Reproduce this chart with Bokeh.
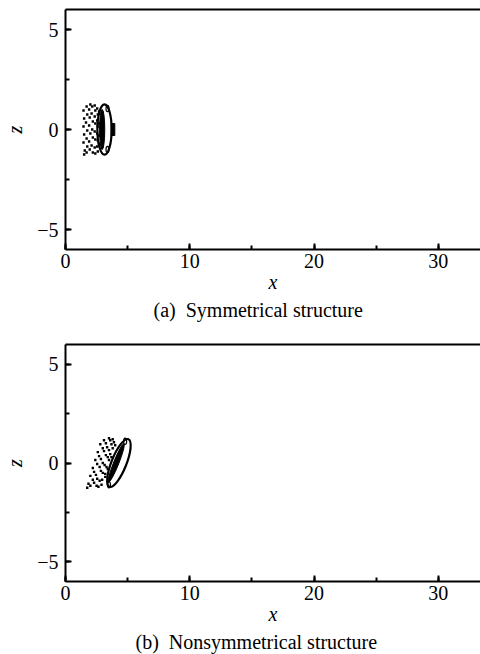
from bokeh.plotting import figure
from bokeh.layouts import column
from bokeh.models import (LinearAxis, FixedTicker, SingleIntervalTicker, Title, Range1d)
from bokeh.embed import file_html
from bokeh.resources import INLINE

FONT = "serif"

# ---- panel (a): symmetrical structure ----
dots_a_x = [1.45, 1.5, 1.45, 1.5, 1.45, 1.55, 1.5,
            1.7, 1.75, 1.65, 1.75, 1.7, 1.75, 1.7,
            1.9, 1.95, 1.9, 2.0, 1.9, 1.95, 2.0,
            2.15, 2.1, 2.2, 2.15, 2.2, 2.1, 2.2,
            2.35, 2.4, 2.35, 2.4, 2.35, 2.4, 2.35, 2.4,
            2.55, 2.6, 2.55, 2.6, 2.55, 2.6, 2.55, 2.6,
            2.7, 2.7, 2.7, 2.7]
dots_a_z = [0.95, 0.55, 0.15, -0.25, -0.65, -1.05, -1.25,
            1.15, 0.75, 0.35, -0.05, -0.45, -0.85, -1.15,
            1.0, 0.6, 0.2, -0.2, -0.6, -1.0, 1.25,
            1.15, 0.8, 0.4, 0.0, -0.4, -0.8, -1.15,
            1.2, 0.95, 0.65, 0.3, -0.1, -0.5, -0.9, -1.2,
            1.05, 0.75, 0.45, 0.15, -0.2, -0.55, -0.85, -1.1,
            0.9, 0.3, -0.3, -0.7]

# ring: centre x, centre z, width, height, tilt (rad)
ring_a = dict(x=3.14, z=0.0, w=1.15, h=2.52, tilt=0.0)
core_a = dict(x=2.95, z=0.0, w=0.42, h=2.0, tilt=0.0)
loops_a_x = [3.38, 3.38]
loops_a_z = [1.05, -1.0]
tab_a = dict(x=3.82, z=0.0, w=0.3, h=0.6)

# ---- panel (b): nonsymmetrical structure ----
dots_b_x = [2.8, 2.6, 2.4, 2.2, 2.0, 1.85, 1.75,
            3.1, 3.0, 2.7, 2.55, 2.3, 2.2, 2.0,
            3.25, 3.1, 2.85, 2.75, 2.45, 2.3, 3.5,
            3.6, 3.35, 3.25, 3.0, 2.85, 2.55, 2.5,
            3.8, 3.7, 3.5, 3.4, 3.15, 3.0, 2.75, 2.65,
            3.9, 3.8, 3.6, 3.5, 3.3, 3.2, 2.95, 2.9,
            4.0, 3.7, 3.4, 3.2]
dots_b_z = [0.95, 0.55, 0.15, -0.25, -0.65, -1.05, -1.25,
            1.15, 0.75, 0.35, -0.05, -0.45, -0.85, -1.15,
            1.0, 0.6, 0.2, -0.2, -0.6, -1.0, 1.25,
            1.15, 0.8, 0.4, 0.0, -0.4, -0.8, -1.15,
            1.2, 0.95, 0.65, 0.3, -0.1, -0.5, -0.9, -1.2,
            1.05, 0.75, 0.45, 0.15, -0.2, -0.55, -0.85, -1.1,
            0.9, 0.3, -0.3, -0.7]

ring_b = dict(x=4.3, z=0.0, w=1.2, h=2.6, tilt=-0.38)
core_b = dict(x=4.08, z=0.0, w=0.42, h=2.1, tilt=-0.38)
loops_b_x = [4.8, 3.5]
loops_b_z = [1.1, -1.1]

CAPTION_A = "(a)\u00a0\u00a0Symmetrical structure"
CAPTION_B = "(b)\u00a0\u00a0Nonsymmetrical structure"


def panel(height, top, bottom, caption, cap_offset, dots_x, dots_z, ring, core,
          loops_x, loops_z, tab=None):
    p = figure(width=480, height=height, output_backend="svg", toolbar_location=None,
               x_range=Range1d(0, 33.4), y_range=Range1d(-6, 6),
               min_border_left=65, min_border_right=0,
               min_border_top=top, min_border_bottom=bottom)
    p.outline_line_color = None
    p.grid.visible = False
    p.background_fill_color = "white"
    p.border_fill_color = "white"

    p.xaxis.ticker = SingleIntervalTicker(interval=10, num_minor_ticks=2)
    p.yaxis.ticker = SingleIntervalTicker(interval=5, num_minor_ticks=2)
    p.yaxis.major_label_overrides = {-5: "\u22125"}
    for ax in (p.xaxis[0], p.yaxis[0]):
        ax.axis_line_width = 2
        ax.major_tick_in = 6
        ax.major_tick_out = 0
        ax.minor_tick_in = 4
        ax.minor_tick_out = 0
        ax.major_tick_line_width = 2
        ax.minor_tick_line_width = 2
        ax.major_label_text_font = FONT
        ax.major_label_text_font_size = "20px"
        ax.major_label_text_color = "black"
        ax.axis_label_text_font = FONT
        ax.axis_label_text_font_size = "20px"
        ax.axis_label_text_font_style = "italic"
        ax.axis_label_text_color = "black"
    p.xaxis.axis_label = "x"
    p.yaxis.axis_label = "z"
    p.xaxis.major_label_standoff = 4
    p.xaxis.axis_label_standoff = 0
    p.yaxis.major_label_standoff = 7
    p.yaxis.axis_label_standoff = 8

    top_axis = LinearAxis(ticker=FixedTicker(ticks=[]), axis_line_width=2,
                          major_tick_in=0, major_tick_out=0,
                          minor_tick_in=0, minor_tick_out=0,
                          major_label_text_font_size="0px")
    p.add_layout(top_axis, "above")

    p.ellipse(x=[ring["x"]], y=[ring["z"]], width=[ring["w"]], height=[ring["h"]],
              angle=[ring["tilt"]], fill_color=None, line_color="black", line_width=2.2)
    p.ellipse(x=[core["x"]], y=[core["z"]], width=[core["w"]], height=[core["h"]],
              angle=[core["tilt"]], fill_color="black", line_color="black", line_width=1)
    p.ellipse(x=loops_x, y=loops_z, width=0.24, height=0.32, fill_color=None,
              line_color="black", line_width=1.2)
    if tab is not None:
        p.rect(x=[tab["x"]], y=[tab["z"]], width=[tab["w"]], height=[tab["h"]],
               fill_color="black", line_color="black")
    p.scatter(x=dots_x, y=dots_z, marker="square", size=2.4, fill_color="black",
              line_color=None)

    p.add_layout(Title(text=caption, align="left", offset=cap_offset, standoff=2,
                       text_font=FONT, text_font_size="20px",
                       text_font_style="normal", text_color="black"), "below")
    return p


fig_a = panel(326, 9, 77, CAPTION_A, 88, dots_a_x, dots_a_z, ring_a, core_a,
              loops_a_x, loops_a_z, tab_a)
fig_b = panel(328, 18, 73, CAPTION_B, 70, dots_b_x, dots_b_z, ring_b, core_b,
              loops_b_x, loops_b_z)

layout = column(fig_a, fig_b, spacing=0)
open("out.html", "w").write(file_html(layout, INLINE))
